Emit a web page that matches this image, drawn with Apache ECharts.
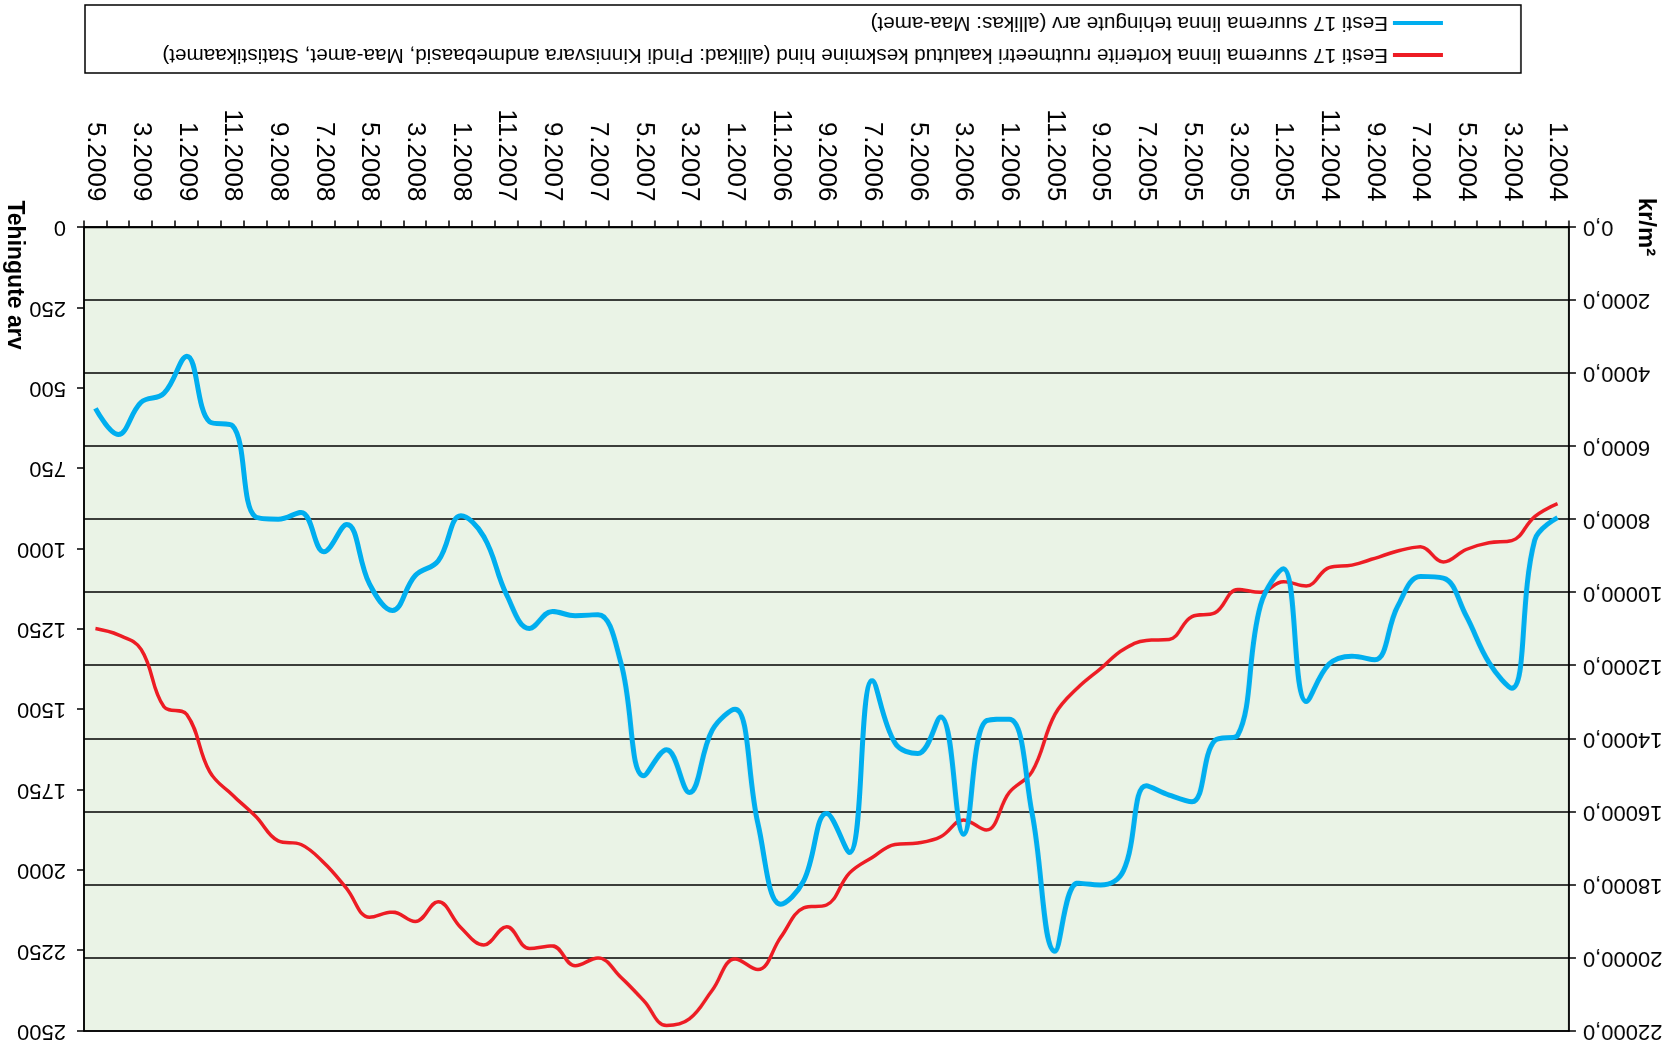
<!DOCTYPE html>
<html>
<head>
<meta charset="utf-8">
<style>
html,body{margin:0;padding:0;background:#fff;overflow:hidden}
#wrap{width:1674px;height:1052px;transform:rotate(180deg);transform-origin:50% 50%}
#c{width:1674px;height:1052px}
</style>
<script src="https://cdn.jsdelivr.net/npm/echarts@6/dist/echarts.min.js"></script>
</head>
<body>
<div id="wrap"><div id="c"></div></div>
<script>
const months = [
  '1.2004','2.2004','3.2004','4.2004','5.2004','6.2004','7.2004','8.2004','9.2004','10.2004','11.2004','12.2004',
  '1.2005','2.2005','3.2005','4.2005','5.2005','6.2005','7.2005','8.2005','9.2005','10.2005','11.2005','12.2005',
  '1.2006','2.2006','3.2006','4.2006','5.2006','6.2006','7.2006','8.2006','9.2006','10.2006','11.2006','12.2006',
  '1.2007','2.2007','3.2007','4.2007','5.2007','6.2007','7.2007','8.2007','9.2007','10.2007','11.2007','12.2007',
  '1.2008','2.2008','3.2008','4.2008','5.2008','6.2008','7.2008','8.2008','9.2008','10.2008','11.2008','12.2008',
  '1.2009','2.2009','3.2009','4.2009','5.2009'
];

// kr/m2 (left axis in upright orientation)
const priceValues = [
  7564, 7920, 8575, 8633, 8818, 9159, 8746, 8860, 9060, 9245,
  9316, 9815, 9701, 9986, 9915, 10555, 10655, 11282, 11310, 11553,
  12080, 12600, 13333, 14900, 15470, 16496, 16225, 16681, 16852, 16895,
  17250, 17678, 18550, 18632, 19430, 20313, 20028, 20883, 21667, 21852,
  21168, 20527, 20000, 20214, 19672, 19743, 19145, 19644, 19174, 18461,
  19003, 18746, 18889, 18105, 17393, 16895, 16795, 16111, 15541, 14900,
  13333, 13120, 11553, 11154, 10983
];

// Tehingute arv (right axis in upright orientation)
const dealCounts = [
  903, 973, 1434, 1354, 1208, 1091, 1086, 1179, 1345, 1334,
  1358, 1475, 1062, 1175, 1580, 1596, 1787, 1766, 1737, 2001,
  2046, 2040, 2252, 1823, 1530, 1535, 1888, 1523, 1637, 1604,
  1410, 1945, 1823, 2033, 2106, 1855, 1499, 1564, 1758, 1625,
  1706, 1354, 1205, 1208, 1195, 1248, 1143, 962, 897, 1038,
  1083, 1192, 1110, 924, 1009, 887, 908, 900, 617, 605,
  401, 516, 544, 644, 563
];

const priceName = 'Eesti 17 suurema linna korterite ruutmeetri kaalutud keskmine hind (allikad: Pindi Kinnisvara andmebaasid, Maa-amet, Statistikaamet)';
const countName = 'Eesti 17 suurema linna tehingute arv (allikas: Maa-amet)';
const priceAxisName = 'kr/m²';
const countAxisName = 'Tehingute arv';

const FONT = '"Liberation Sans", Arial, sans-serif';
const chart = echarts.init(document.getElementById('c'), null, {renderer: 'canvas'});

const option = {
  animation: false,
  backgroundColor: '#ffffff',
  textStyle: {fontFamily: FONT},
  grid: {
    left: 105, right: 84, top: 21, bottom: 227.4,
    show: true, backgroundColor: '#EAF3E6', borderColor: '#000', borderWidth: 1.5
  },
  legend: {
    orient: 'vertical',
    left: 231, top: 985, padding: 0, height: 62,
    icon: 'rect', itemWidth: 50, itemHeight: 4, itemGap: 8,
    textStyle: {fontSize: 20.7, lineHeight: 24, color: '#000', fontFamily: FONT},
    data: [priceName, countName]
  },
  xAxis: {
    type: 'category', data: months, boundaryGap: true,
    axisLine: {show: true, lineStyle: {color: '#000', width: 1.5}},
    axisTick: {show: true, interval: 0, length: 7, inside: false, lineStyle: {color: '#000', width: 1.5}},
    axisLabel: {interval: 1, rotate: 90, margin: 26, fontSize: 26, color: '#000', fontFamily: FONT},
    splitLine: {show: false}
  },
  yAxis: [
    {
      type: 'value', min: 0, max: 22000, interval: 2000, position: 'left',
      axisLine: {show: true, lineStyle: {color: '#000', width: 1.5}},
      axisTick: {show: true, length: 7, lineStyle: {color: '#000', width: 1.5}},
      axisLabel: {formatter: v => v.toFixed(1).replace('.', ','), fontSize: 22, color: '#000', margin: 14, fontFamily: FONT},
      splitLine: {show: true, lineStyle: {color: '#000', width: 1.5}}
    },
    {
      type: 'value', min: 0, max: 2500, interval: 250, position: 'right',
      axisLine: {show: true, lineStyle: {color: '#000', width: 1.5}},
      axisTick: {show: true, length: 7, lineStyle: {color: '#000', width: 1.5}},
      axisLabel: {formatter: v => String(v), fontSize: 22, color: '#000', margin: 18, fontFamily: FONT},
      splitLine: {show: false}
    }
  ],
  series: [
    {
      name: priceName, type: 'line', yAxisIndex: 0, data: priceValues,
      smooth: 0.4, symbol: 'none',
      lineStyle: {color: '#ED1C24', width: 3.5}, itemStyle: {color: '#ED1C24'}
    },
    {
      name: countName, type: 'line', yAxisIndex: 1, data: dealCounts,
      smooth: 0.4, symbol: 'none',
      lineStyle: {color: '#00AEEF', width: 5}, itemStyle: {color: '#00AEEF'}
    }
  ],
  graphic: [
    {
      type: 'rect', silent: true,
      shape: {x: 153, y: 979, width: 1436, height: 68},
      style: {fill: 'none', stroke: '#000', lineWidth: 1.5}
    },
    {
      type: 'text', x: 1659.6, y: 777, rotation: Math.PI / 2, silent: true,
      style: {text: countAxisName, fontSize: 23, fontWeight: 'bold', fontFamily: FONT, fill: '#000',
              align: 'center', verticalAlign: 'middle', textAlign: 'center', textVerticalAlign: 'middle'}
    },
    {
      type: 'text', x: 28.7, y: 825, rotation: Math.PI / 2, silent: true,
      style: {text: priceAxisName, fontSize: 24, fontWeight: 'bold', fontFamily: FONT, fill: '#000',
              align: 'center', verticalAlign: 'middle', textAlign: 'center', textVerticalAlign: 'middle'}
    }
  ]
};
chart.setOption(option);
</script>
</body>
</html>
